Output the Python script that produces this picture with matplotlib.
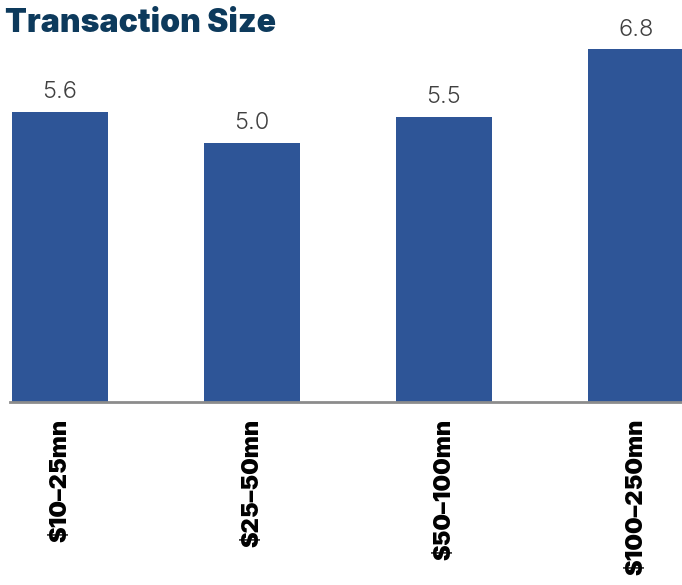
import matplotlib
matplotlib.use("Agg")
import matplotlib.pyplot as plt

categories = ["$10\u201325mn", "$25\u201350mn", "$50\u2013100mn", "$100\u2013250mn"]
values = [5.6, 5.0, 5.5, 6.8]

BAR_COLOR = "#2E5597"
TITLE_COLOR = "#0D3A5C"

plt.rcParams["font.family"] = ["Inter", "DejaVu Sans"]

fig = plt.figure(figsize=(6.82, 5.85), dpi=100)
ax = fig.add_axes([10 / 682, 183 / 585, 672 / 682, 402 / 585])

xs = list(range(len(categories)))
bars = ax.bar(xs, values, width=0.5, color=BAR_COLOR)
for x, v in zip(xs, values):
    ax.annotate(f"{v:.1f}", (x, v), xytext=(0, 6), textcoords="offset points",
                ha="center", va="bottom", fontsize=17, fontweight=300,
                color="#404040", annotation_clip=False)

ax.set_xlim(-0.26, 3.24)
ax.set_ylim(0, 7.75)
ax.set_xticks(xs)
ax.set_xticklabels(categories, rotation=90, fontsize=17, fontweight=900,
                   color="black", va="top", ha="center")
ax.tick_params(axis="x", length=0, pad=12)
ax.set_yticks([])
for side in ("top", "right", "left"):
    ax.spines[side].set_visible(False)
ax.spines["bottom"].set_color("#8C8C8C")
ax.spines["bottom"].set_linewidth(2)

fig.text(5 / 682, 1 - 24 / 585, "Transaction Size", fontsize=23, fontweight=900,
         color=TITLE_COLOR, ha="left", va="center")

fig.savefig("out.png", dpi=100)
